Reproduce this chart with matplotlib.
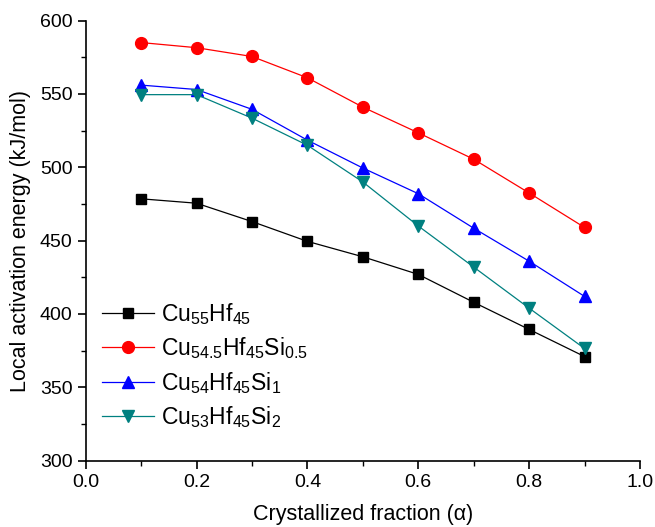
import matplotlib
matplotlib.use("Agg")
import matplotlib.pyplot as plt
from matplotlib.ticker import MultipleLocator, FormatStrFormatter

plt.rcParams['font.family'] = ['Liberation Sans', 'DejaVu Sans']
plt.rcParams['mathtext.fontset'] = 'custom'
plt.rcParams['mathtext.rm'] = 'Liberation Sans'
plt.rcParams['mathtext.it'] = 'Liberation Sans:italic'

# Crystallized fraction and local activation energies (kJ/mol)
alpha = [0.1, 0.2, 0.3, 0.4, 0.5, 0.6, 0.7, 0.8, 0.9]
e_cu55 = [478.5, 475.5, 463.0, 449.5, 439.0, 427.0, 408.0, 389.5, 371.0]
e_si05 = [585.0, 581.5, 575.5, 561.0, 541.0, 523.5, 505.5, 482.5, 459.0]
e_si1 = [556.0, 553.0, 539.5, 518.5, 499.5, 482.0, 458.5, 436.0, 412.0]
e_si2 = [549.5, 549.5, 533.5, 515.0, 490.0, 460.0, 432.0, 404.0, 376.5]

labels = [r'$\mathregular{Cu_{55}Hf_{45}}$',
          r'$\mathregular{Cu_{54.5}Hf_{45}Si_{0.5}}$',
          r'$\mathregular{Cu_{54}Hf_{45}Si_{1}}$',
          r'$\mathregular{Cu_{53}Hf_{45}Si_{2}}$']

fig = plt.figure(figsize=(6.55, 5.27), dpi=100)
ax = fig.add_axes([0.1308, 0.1258, 0.977 - 0.1308, 0.961 - 0.1258])

ax.plot(alpha, e_cu55, color='black', marker='s', ms=7.5, lw=0.9, label=labels[0])
ax.plot(alpha, e_si05, color='red', marker='o', ms=8.5, lw=0.9, label=labels[1])
ax.plot(alpha, e_si1, color='blue', marker='^', ms=9, lw=0.9, label=labels[2])
ax.plot(alpha, e_si2, color='#008080', marker='v', ms=9, lw=0.9, label=labels[3])

ax.set_xlim(0.0, 1.0)
ax.set_ylim(300, 600)
ax.xaxis.set_major_locator(MultipleLocator(0.2))
ax.xaxis.set_minor_locator(MultipleLocator(0.1))
ax.yaxis.set_major_locator(MultipleLocator(50))
ax.yaxis.set_minor_locator(MultipleLocator(25))
ax.xaxis.set_major_formatter(FormatStrFormatter('%.1f'))

for side in ('top', 'right'):
    ax.spines[side].set_visible(False)
for side in ('left', 'bottom'):
    ax.spines[side].set_linewidth(1.2)

ax.tick_params(which='major', direction='out', length=6, width=1.2, labelsize=14)
ax.tick_params(which='minor', direction='out', length=3.5, width=1.0)

ax.set_xlabel('Crystallized fraction (α)', fontsize=15.5, labelpad=9.5)
ax.set_ylabel('Local activation energy (kJ/mol)', fontsize=15.5, labelpad=6)

ax.legend(loc='upper left', bbox_to_anchor=(0.0, 0.40), frameon=False,
          fontsize=16.5, handlelength=2.3, handletextpad=0.3, labelspacing=0.38,
          borderaxespad=0.3)

fig.savefig('out.png', dpi=100)
